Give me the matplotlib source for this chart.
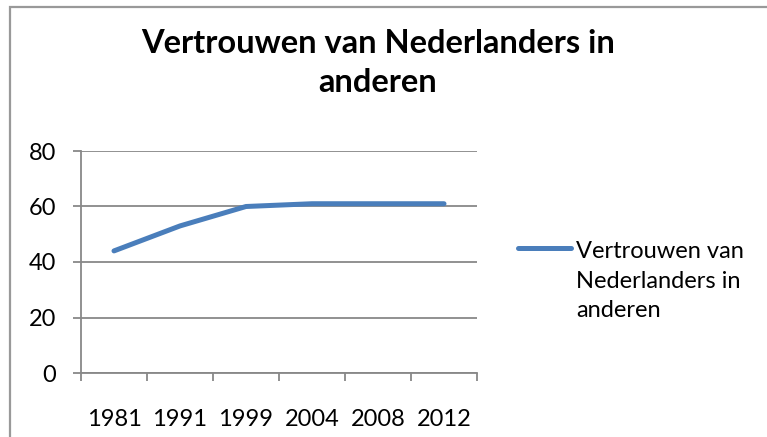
import matplotlib
matplotlib.use("Agg")
import matplotlib.pyplot as plt
from matplotlib.patches import Rectangle
from matplotlib.lines import Line2D

categories = ["1981", "1991", "1999", "2004", "2008", "2012"]
values = [44, 53, 60, 61, 61, 61]
series_name = "Vertrouwen van\nNederlanders in\nanderen"
title = "Vertrouwen van Nederlanders in\nanderen"
yticks = [0, 20, 40, 60, 80]

plt.rcParams['font.family'] = ['Lato', 'DejaVu Sans']

W, H = 767, 437
fig = plt.figure(figsize=(W / 100, H / 100), dpi=100)

GRAY = "#888888"
BLUE = "#4a7ebb"

# outer chart frame (extends past the right and bottom edge)
fig.patches.append(Rectangle((10 / W, -0.2), 1.2, 1.2 - 6.5 / H, transform=fig.transFigure,
                             fill=False, edgecolor="#999999", linewidth=1.6))

ax = fig.add_axes([81 / W, 1 - 373 / H, (477 - 81) / W, (373 - 151) / H])
x = list(range(len(categories)))
ax.plot(x, values, color=BLUE, linewidth=3.6, solid_capstyle="round", solid_joinstyle="round")
ax.set_xlim(-0.5, len(categories) - 0.5)
ax.set_ylim(0, 80)
ax.set_yticks(yticks)
ax.set_yticklabels([str(v) for v in yticks], fontsize=17)
ax.set_xticks([i - 0.5 for i in range(len(categories) + 1)], minor=False)
ax.set_xticklabels([""] * (len(categories) + 1))
ax.set_xticks(x, minor=True)
ax.set_xticklabels(categories, minor=True, fontsize=17)
ax.tick_params(axis="x", which="minor", length=0, pad=26)
ax.tick_params(axis="x", which="major", length=5.5, color=GRAY, width=1.3)
ax.tick_params(axis="y", length=5.8, color=GRAY, width=1.3, pad=12)
ax.grid(axis="y", color=GRAY, linewidth=1.3)
ax.set_axisbelow(True)
for s in ["top", "right"]:
    ax.spines[s].set_visible(False)
for s in ["left", "bottom"]:
    ax.spines[s].set_color(GRAY)
    ax.spines[s].set_linewidth(1.3)

fig.text(378 / W, 1 - 63 / H, title, ha="center", va="center", fontsize=23.5,
         fontweight="bold", linespacing=1.4)

# legend
fig.add_artist(Line2D([518 / W, 571 / W], [1 - 248 / H, 1 - 248 / H], transform=fig.transFigure,
                      color=BLUE, linewidth=3.6, solid_capstyle="round"))
fig.text(576 / W, 1 - 281 / H, series_name, ha="left", va="center",
         fontsize=17, linespacing=1.51)

fig.savefig("out.png", dpi=100)
